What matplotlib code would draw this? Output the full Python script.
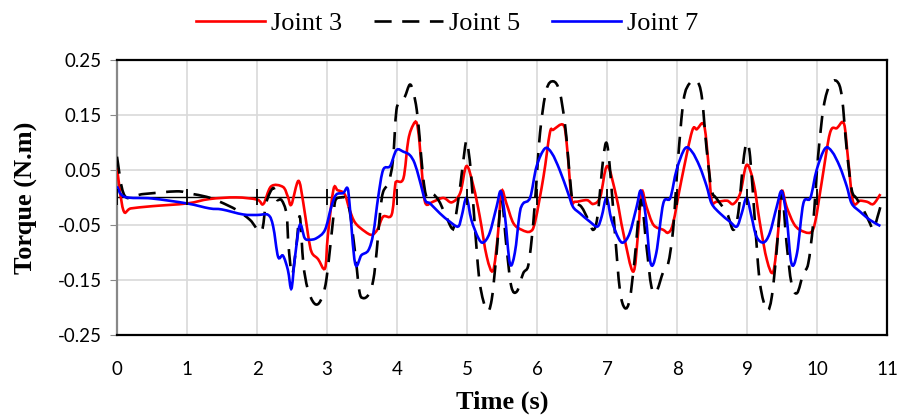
import matplotlib
matplotlib.use("Agg")
import matplotlib.pyplot as plt
from matplotlib.path import Path
from matplotlib.patches import PathPatch
from matplotlib.lines import Line2D

# Joint 3 (red, solid)
t3 = [0.0, 0.09, 0.2, 0.5, 1.0, 1.32, 1.7, 2.0, 2.09, 2.2, 2.37, 2.44, 2.49, 2.59, 2.66,
      2.73, 2.78, 2.87, 2.97, 3.01, 3.09, 3.15, 3.25, 3.32, 3.4, 3.54, 3.64, 3.72, 3.8,
      3.92, 3.97, 3.99, 4.09, 4.16, 4.23, 4.28, 4.32, 4.37, 4.41, 4.51, 4.66, 4.78, 4.9,
      4.99, 5.09, 5.18, 5.28, 5.37, 5.44, 5.49, 5.56, 5.66, 5.78, 5.9, 5.97, 6.09, 6.18,
      6.23, 6.37, 6.42, 6.49, 6.54, 6.71, 6.8, 6.9, 7.0, 7.13, 7.23, 7.37, 7.44, 7.49,
      7.56, 7.66, 7.8, 7.87, 7.94, 8.06, 8.21, 8.28, 8.38, 8.44, 8.49, 8.56, 8.71, 8.8,
      8.9, 8.99, 9.09, 9.18, 9.28, 9.37, 9.44, 9.49, 9.56, 9.66, 9.75, 9.9, 9.97, 10.06,
      10.18, 10.28, 10.38, 10.44, 10.51, 10.61, 10.71, 10.8, 10.9]
joint3 = [0.053, -0.023, -0.02, -0.016, -0.011, -0.003, 0.0, -0.004, -0.012, 0.02, 0.019,
          0.001, -0.013, 0.03, -0.01, -0.07, -0.1, -0.112, -0.129, -0.07, 0.014, 0.013,
          0.006, -0.022, -0.046, -0.062, -0.068, -0.058, -0.035, -0.032, 0.02, 0.029,
          0.035, 0.105, 0.132, 0.135, 0.099, 0.02, -0.012, -0.008, -0.001, -0.009, 0.008,
          0.057, 0.02, -0.035, -0.108, -0.133, -0.065, 0.011, -0.011, -0.047, -0.059,
          -0.062, -0.044, 0.038, 0.117, 0.123, 0.132, 0.099, -0.002, -0.008, -0.005,
          -0.012, 0.001, 0.057, 0.001, -0.065, -0.135, -0.065, 0.011, -0.017, -0.05,
          -0.059, -0.064, -0.047, 0.032, 0.12, 0.124, 0.132, 0.068, -0.005, -0.008,
          -0.006, -0.012, 0.008, 0.059, 0.026, -0.047, -0.114, -0.135, -0.062, 0.011,
          -0.017, -0.047, -0.059, -0.064, -0.044, 0.026, 0.117, 0.126, 0.134, 0.068,
          -0.008, -0.006, -0.008, -0.012, 0.006]

# Joint 5 (black, dashed)
t5 = [0.0, 0.11, 0.37, 0.85, 1.04, 1.28, 1.47, 1.71, 1.9, 2.06, 2.13, 2.23, 2.28, 2.35,
      2.42, 2.45, 2.5, 2.56, 2.61, 2.66, 2.72, 2.8, 2.87, 2.94, 2.99, 3.04, 3.09, 3.12,
      3.2, 3.26, 3.32, 3.4, 3.46, 3.51, 3.59, 3.66, 3.71, 3.76, 3.8, 3.88, 3.94, 3.99,
      4.05, 4.11, 4.18, 4.23, 4.28, 4.32, 4.37, 4.42, 4.49, 4.59, 4.68, 4.78, 4.82, 4.9,
      4.97, 5.0, 5.05, 5.11, 5.18, 5.28, 5.35, 5.42, 5.49, 5.56, 5.63, 5.71, 5.8, 5.87,
      5.92, 5.97, 6.04, 6.13, 6.23, 6.32, 6.4, 6.47, 6.51, 6.63, 6.73, 6.8, 6.86, 6.94,
      6.99, 7.04, 7.11, 7.18, 7.25, 7.32, 7.39, 7.48, 7.56, 7.63, 7.7, 7.8, 7.87, 7.94,
      8.01, 8.09, 8.18, 8.28, 8.35, 8.42, 8.49, 8.56, 8.71, 8.8, 8.87, 8.94, 8.99, 9.04,
      9.11, 9.18, 9.28, 9.35, 9.42, 9.49, 9.56, 9.63, 9.71, 9.8, 9.87, 9.94, 10.01,
      10.09, 10.18, 10.28, 10.35, 10.42, 10.49, 10.56, 10.66, 10.75, 10.8, 10.86, 10.9]
joint5 = [0.074, 0.003, 0.006, 0.011, 0.007, 0.001, -0.008, -0.023, -0.041, -0.062,
          -0.01, 0.017, -0.004, -0.005, -0.03, -0.089, -0.14, -0.089, -0.035, -0.12,
          -0.165, -0.19, -0.194, -0.178, -0.149, -0.095, -0.035, -0.005, 0.0, -0.002,
          -0.023, -0.101, -0.17, -0.183, -0.177, -0.15, -0.095, -0.023, 0.01, 0.028,
          0.068, 0.159, 0.172, 0.183, 0.205, 0.192, 0.159, 0.11, 0.038, 0.001, 0.008,
          -0.005, -0.029, -0.056, -0.047, 0.02, 0.092, 0.099, 0.05, -0.053, -0.156,
          -0.205, -0.186, -0.101, -0.005, -0.089, -0.162, -0.171, -0.138, -0.125,
          -0.077, -0.005, 0.117, 0.195, 0.211, 0.192, 0.129, 0.032, -0.005, -0.017,
          -0.041, -0.059, -0.035, 0.068, 0.099, 0.05, -0.065, -0.168, -0.201, -0.186,
          -0.114, -0.005, -0.089, -0.162, -0.172, -0.135, -0.12, -0.059, 0.068, 0.177,
          0.208, 0.211, 0.183, 0.086, 0.014, -0.002, -0.029, -0.059, -0.029, 0.062,
          0.099, 0.074, -0.047, -0.156, -0.205, -0.18, -0.095, 0.011, -0.083, -0.156,
          -0.174, -0.138, -0.12, -0.047, 0.074, 0.165, 0.205, 0.211, 0.183, 0.086,
          0.014, -0.002, -0.023, -0.047, -0.059, -0.035, -0.017]

# Joint 7 (blue, solid)
t7 = [0.0, 0.11, 0.5, 1.0, 1.32, 1.5, 1.8, 2.0, 2.16, 2.23, 2.3, 2.37, 2.44, 2.49, 2.54,
      2.61, 2.68, 2.75, 2.85, 2.97, 3.06, 3.13, 3.23, 3.29, 3.32, 3.4, 3.49, 3.59, 3.66,
      3.73, 3.8, 3.9, 3.99, 4.09, 4.18, 4.25, 4.32, 4.4, 4.47, 4.61, 4.75, 4.87, 4.92,
      4.99, 5.06, 5.16, 5.23, 5.32, 5.42, 5.48, 5.54, 5.61, 5.68, 5.75, 5.8, 5.9, 5.99,
      6.11, 6.21, 6.32, 6.44, 6.51, 6.61, 6.75, 6.86, 6.92, 6.99, 7.06, 7.16, 7.23, 7.32,
      7.42, 7.48, 7.55, 7.62, 7.7, 7.8, 7.9, 7.99, 8.11, 8.21, 8.32, 8.42, 8.49, 8.61,
      8.75, 8.85, 8.92, 8.99, 9.06, 9.13, 9.23, 9.32, 9.42, 9.49, 9.56, 9.63, 9.71, 9.8,
      9.9, 9.99, 10.11, 10.21, 10.32, 10.42, 10.49, 10.61, 10.75, 10.9]
joint7 = [0.02, 0.001, -0.002, -0.011, -0.02, -0.022, -0.031, -0.032, -0.032, -0.053,
          -0.108, -0.106, -0.132, -0.166, -0.11, -0.05, -0.074, -0.077, -0.074, -0.059,
          -0.017, 0.005, 0.008, 0.017, -0.011, -0.12, -0.105, -0.096, -0.065, 0.001,
          0.05, 0.057, 0.086, 0.083, 0.077, 0.062, 0.032, -0.005, -0.011, -0.029, -0.044,
          -0.053, -0.035, -0.001, -0.041, -0.074, -0.082, -0.065, -0.017, 0.011, -0.035,
          -0.12, -0.101, -0.029, -0.011, 0.0, 0.056, 0.089, 0.08, 0.05, 0.008, -0.017,
          -0.029, -0.044, -0.053, -0.035, -0.001, -0.041, -0.074, -0.082, -0.065, -0.017,
          0.012, -0.035, -0.12, -0.101, -0.011, -0.001, 0.05, 0.089, 0.083, 0.056, 0.02,
          -0.011, -0.029, -0.044, -0.053, -0.029, -0.001, -0.035, -0.071, -0.082, -0.065,
          -0.017, 0.011, -0.035, -0.12, -0.101, -0.011, -0.001, 0.05, 0.089, 0.083, 0.056,
          0.02, -0.011, -0.026, -0.041, -0.052]

x_ticks = list(range(0, 12))
y_ticks = [-0.25, -0.15, -0.05, 0.05, 0.15, 0.25]
y_labels = ["-0.25", "-0.15", "-0.05", "0.05", "0.15", "0.25"]

serif = ["Liberation Serif", "DejaVu Serif"]
tick_font = "Lato"
dash = (0, (6.5, 4))


def smooth_path(xs, ys):
    # Excel-like smoothed line: cubic Bezier segments through the points
    verts = [(xs[0], ys[0])]
    codes = [Path.MOVETO]
    n = len(xs)
    for i in range(n - 1):
        a = max(i - 1, 0)
        b = min(i + 2, n - 1)
        verts.append((xs[i] + (xs[i + 1] - xs[a]) / 6, ys[i] + (ys[i + 1] - ys[a]) / 6))
        verts.append((xs[i + 1] - (xs[b] - xs[i]) / 6, ys[i + 1] - (ys[b] - ys[i]) / 6))
        verts.append((xs[i + 1], ys[i + 1]))
        codes += [Path.CURVE4] * 3
    return Path(verts, codes)


fig = plt.figure(figsize=(9, 4.16), dpi=100)
ax = fig.add_axes([0.13, 0.195, 0.856, 0.661])

series = [
    (t3, joint3, "#ff0000", "-", "Joint 3"),
    (t5, joint5, "black", dash, "Joint 5"),
    (t7, joint7, "#0000ff", "-", "Joint 7"),
]
handles = []
for xs, ys, col, ls, name in series:
    ax.add_patch(PathPatch(smooth_path(xs, ys), facecolor="none", edgecolor=col,
                           lw=1.9, linestyle=ls, zorder=3, capstyle="butt"))
    handles.append(Line2D([], [], color=col, lw=1.9, linestyle=ls, label=name))

# horizontal axis crossing at zero, with its tick marks
ax.axhline(0, color="black", lw=1.0, zorder=2)
ax.plot(x_ticks, [0] * len(x_ticks), linestyle="none", marker="|", ms=11, mew=1.3,
        color="black", zorder=3.5)

ax.set_xlim(0, 11)
ax.set_ylim(-0.25, 0.25)
ax.set_xticks(x_ticks)
ax.set_yticks(y_ticks)
ax.set_yticklabels(y_labels)
ax.grid(True, color="#d9d9d9", lw=1.2)
ax.set_axisbelow(True)

for s in ["top", "right", "bottom"]:
    ax.spines[s].set_color("black")
    ax.spines[s].set_linewidth(1.6)
ax.spines["left"].set_color("#888888")
ax.spines["left"].set_linewidth(1.6)

ax.tick_params(axis="x", length=0, pad=19, labelsize=13.5)
ax.tick_params(axis="y", length=5, color="#888888", pad=6, labelsize=13.5)
for lab in ax.get_xticklabels() + ax.get_yticklabels():
    lab.set_fontfamily(tick_font)

ax.set_xlabel("Time (s)", fontfamily=serif, fontweight="bold", fontsize=19, labelpad=9)
ax.set_ylabel("Torque (N.m)", fontfamily=serif, fontweight="bold", fontsize=19, labelpad=14)

leg = fig.legend(handles=handles, loc="center", bbox_to_anchor=(0.497, 0.943), ncol=3,
                 frameon=False, prop={"family": serif, "size": 19}, handlelength=2.6,
                 handletextpad=0.25, columnspacing=1.2, borderpad=0, borderaxespad=0)

fig.savefig("out.png", dpi=100)
